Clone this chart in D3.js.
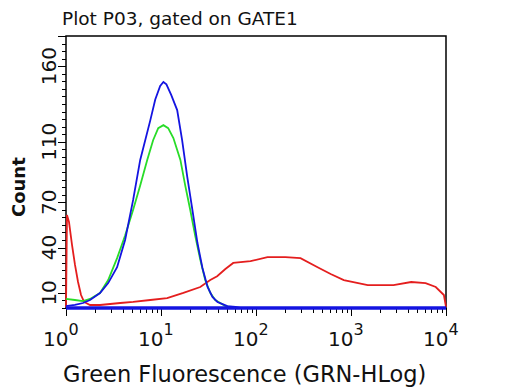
<!DOCTYPE html>
<html>
<head>
<meta charset="utf-8">
<script src="https://cdn.jsdelivr.net/npm/d3@7"></script>
<style>
  body { margin: 0; background: #fff; }
  svg { display: block; }
  .axis path, .axis line { stroke: #000; shape-rendering: crispEdges; }
  text { font-family: "DejaVu Sans", Verdana, sans-serif; fill: #111; }
</style>
</head>
<body>
<svg id="svg1" width="517" height="388"></svg>
<script>
// histogram values: [fluorescence, count]
var redSeries = [
  [1.0, 0.7], [1.024, 61.5], [1.075, 57], [1.157, 41.7], [1.244, 28.5], [1.339, 17.2],
  [1.44, 8.6], [1.55, 4], [1.79, 2], [2.28, 2], [3.72, 3.3], [5.09, 4], [7.7, 5.3],
  [11.6, 6.6], [17.2, 10], [25.9, 13.9], [33, 18.5], [39, 21], [47.6, 25.8], [57.6, 29.8],
  [87.6, 31], [132, 33.7], [204, 33.7], [294, 33], [445, 27], [611, 22.5], [840, 18.5],
  [1500, 15.2], [2800, 15.2], [4300, 17.2], [6100, 16.5], [7800, 13.9], [9500, 8.6], [10000, 0.7]
];
var greenSeries = [
  [1.0, 6], [1.24, 5.3], [1.51, 4.6], [1.79, 6], [2.28, 9.9], [2.78, 18.5], [3.45, 33],
  [4.19, 48], [5.09, 65], [6.04, 81], [7.16, 98], [8.26, 111], [9.35, 119], [10.6, 121],
  [11.9, 119], [13.5, 112.5], [16.0, 98], [18.0, 81], [20.3, 65], [22.9, 48], [25.9, 32],
  [29.2, 18.5], [33, 10], [37.2, 5.3], [42, 3.3], [47.6, 1.3], [53.8, 0.7], [60.8, 0]
];
var blueSeries = [
  [1.0, 1.3], [1.24, 2], [1.51, 3.3], [1.79, 5.3], [2.28, 9.9], [2.78, 16.5], [3.45, 27],
  [4.19, 45], [5.09, 71.5], [6.04, 98], [7.7, 124], [8.7, 138], [9.8, 147], [10.6, 149.6],
  [11.4, 148], [12.8, 141], [14.8, 131], [16.7, 111], [18.9, 86.7], [21.4, 65], [24.2, 43],
  [27.3, 26.5], [30.9, 13.9], [34.8, 7.3], [39.3, 4], [44.4, 2.6], [50, 1.3], [60.8, 0.7],
  [68.5, 0], [10000, 0]
];
var decades = [1, 10, 100, 1000, 10000];
var decadeExp = ["0", "1", "2", "3", "4"];
var yTickLabels = [10, 40, 70, 110, 160];

var svg = d3.select("#svg1");
var margin = {top: 36, right: 71, bottom: 80, left: 66};
var width = +svg.attr("width") - margin.left - margin.right,
    height = +svg.attr("height") - margin.top - margin.bottom;

var x = d3.scaleLog().domain([1, 10000]).range([0, width]);
var y = d3.scaleLinear().domain([0, 180]).range([height, 0]);

var g = svg.append("g")
    .attr("transform", "translate(" + margin.left + "," + margin.top + ")");

// frame
g.append("path")
    .attr("d", "M0," + height + "V0H" + width + "V" + height)
    .attr("fill", "none")
    .attr("stroke", "#000")
    .attr("stroke-width", 1.5);

// minor ticks
var minorX = [];
decades.slice(0, 4).forEach(function(d) {
  for (var k = 2; k <= 9; k++) minorX.push(d * k);
});
g.append("g")
    .attr("class", "axis")
    .attr("transform", "translate(0," + height + ")")
    .call(d3.axisBottom(x).tickValues(minorX).tickSize(5).tickFormat(""));
g.append("g")
    .attr("class", "axis")
    .attr("transform", "translate(0," + height + ")")
    .call(d3.axisBottom(x).tickValues(decades).tickSize(8).tickFormat(""));

g.append("g")
    .attr("class", "axis")
    .call(d3.axisLeft(y).tickValues(d3.range(0, 181, 5)).tickSize(4).tickFormat(""));
g.append("g")
    .attr("class", "axis")
    .call(d3.axisLeft(y).tickValues(yTickLabels.concat([180])).tickSize(8).tickFormat(""));

g.selectAll(".axis .domain").remove();

// x tick labels 10^n
var xl = g.selectAll(".xlab")
    .data(decades)
  .enter().append("text")
    .attr("class", "xlab")
    .attr("x", function(d) { return x(d) - 23; })
    .attr("y", height + 38)
    .style("font-size", "20px");
xl.append("tspan").text("10");
xl.append("tspan")
    .attr("dy", -11)
    .style("font-size", "16px")
    .text(function(d, i) { return decadeExp[i]; });

// y tick labels, rotated
g.selectAll(".ylab")
    .data(yTickLabels)
  .enter().append("text")
    .attr("class", "ylab")
    .attr("transform", function(d) { return "translate(-10," + y(d) + ") rotate(-90)"; })
    .attr("text-anchor", "middle")
    .style("font-size", "20px")
    .text(function(d) { return d; });

// histogram lines
var line = d3.line()
    .x(function(d) { return x(d[0]); })
    .y(function(d) { return y(d[1]); });

g.append("path").datum(redSeries)
    .attr("d", line).attr("fill", "none")
    .attr("stroke", "rgb(228,30,30)").attr("stroke-width", 1.8);
g.append("path").datum(greenSeries)
    .attr("d", line).attr("fill", "none")
    .attr("stroke", "rgb(40,220,40)").attr("stroke-width", 1.8);
g.append("path").datum(blueSeries)
    .attr("d", line).attr("fill", "none")
    .attr("stroke", "rgb(20,20,225)").attr("stroke-width", 1.8);
// thick zero line of the blue histogram
g.append("path").datum(blueSeries.filter(function(d) { return d[1] === 0; }).concat([[1, 0]]).sort(function(a, b) { return a[0] - b[0]; }))
    .attr("d", line).attr("fill", "none")
    .attr("stroke", "rgb(20,20,225)").attr("stroke-width", 3.5);

// titles
svg.append("text")
    .attr("x", 62).attr("y", 25)
    .style("font-size", "18.5px")
    .text("Plot P03, gated on GATE1");

svg.append("text")
    .attr("transform", "translate(25," + (margin.top + y(80)) + ") rotate(-90)")
    .attr("text-anchor", "middle")
    .style("font-size", "18px")
    .style("font-weight", "bold")
    .text("Count");

svg.append("text")
    .attr("x", 63).attr("y", 382)
    .style("font-size", "22.5px")
    .text("Green Fluorescence (GRN-HLog)");
</script>
</body>
</html>
